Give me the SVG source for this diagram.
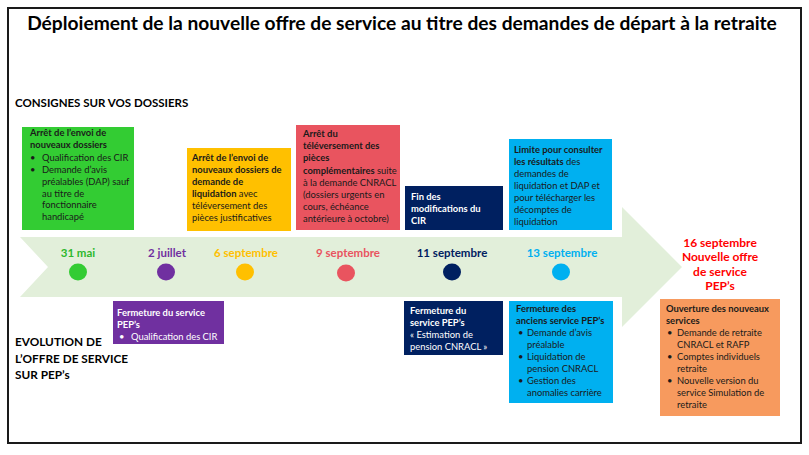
<svg xmlns="http://www.w3.org/2000/svg" width="809" height="455" viewBox="0 0 809 455">
<style>
text{font-family:Lato,"Liberation Sans",sans-serif;}
.t{font-size:9.4px;fill:#1a1a1a;}
.w{font-size:9.4px;fill:#ffffff;}
.b{font-weight:bold;}
.d{font-size:11.5px;font-weight:bold;text-anchor:middle;}
.h{font-size:11.8px;font-weight:bold;fill:#000;}
</style>
<rect x="0" y="0" width="809" height="455" fill="#ffffff"/>
<rect x="8" y="8" width="793" height="435" fill="#ffffff" stroke="#1a1a1a" stroke-width="2"/>
<text id="title" x="402" y="30" text-anchor="middle" font-size="19.2" font-weight="bold" fill="#000">Déploiement de la nouvelle offre de service au titre des demandes de départ à la retraite</text>
<text id="label-consignes" x="15" y="107" font-size="11.5" font-weight="bold" fill="#000">CONSIGNES SUR VOS DOSSIERS</text>
<g id="label-evolution" class="h">
<text x="15" y="346">EVOLUTION  DE</text>
<text x="15" y="363">L’OFFRE  DE SERVICE</text>
<text x="15" y="379">SUR PEP’s</text>
</g>
<g id="connectors">
<polygon points="20,237 622,237 622,207 682,267 622,327 622,297 20,297 48,267" fill="#E2EFDA"/>
</g>
<g id="node-31mai">
<rect x="22" y="127" width="112" height="103" fill="#33CC33"/>
<text class="t"><tspan class="b" x="30" y="136">Arrêt de l’envoi de</tspan><tspan class="b" x="30" y="148">nouveaux dossiers</tspan></text>
<text class="t"><tspan x="30" y="161">•</tspan><tspan x="42" y="161">Qualification des CIR</tspan><tspan x="30" y="173">•</tspan><tspan x="42" y="173">Demande d’avis</tspan><tspan x="42" y="185">préalables (DAP) sauf</tspan><tspan x="42" y="197">au titre de</tspan><tspan x="42" y="208">fonctionnaire</tspan><tspan x="42" y="220">handicapé</tspan></text>
<text class="d" x="78" y="257" fill="#2DB82D">31 mai</text>
<ellipse cx="78" cy="272" rx="9" ry="8.5" fill="#33CC33"/>
</g>
<g id="node-6sept">
<rect x="187" y="148" width="104" height="83" fill="#FFC000"/>
<text class="t"><tspan class="b" x="192" y="161">Arrêt de l’envoi de</tspan><tspan class="b" x="192" y="173">nouveaux dossiers de</tspan><tspan class="b" x="192" y="185">demande de</tspan><tspan class="b" x="192" y="197">liquidation</tspan><tspan> avec</tspan><tspan x="192" y="209">téléversement des</tspan><tspan x="192" y="221">pièces justificatives</tspan></text>
<text class="d" x="246" y="257" fill="#FFC000">6 septembre</text>
<ellipse cx="245" cy="272" rx="9" ry="8.5" fill="#FFC000"/>
</g>
<g id="node-9sept">
<rect x="296" y="125" width="104" height="105" fill="#E9545F"/>
<text class="t"><tspan class="b" x="303" y="137">Arrêt du</tspan><tspan class="b" x="303" y="149">téléversement des</tspan><tspan class="b" x="303" y="161">pièces</tspan><tspan class="b" x="303" y="174">complémentaires</tspan><tspan> suite</tspan><tspan x="303" y="186">à la demande CNRACL</tspan><tspan x="303" y="198">(dossiers urgents en</tspan><tspan x="303" y="210">cours, échéance</tspan><tspan x="303" y="222">antérieure à octobre)</tspan></text>
<text class="d" x="348" y="257" fill="#E9545F">9 septembre</text>
<ellipse cx="346" cy="273" rx="9" ry="8.5" fill="#E9545F"/>
</g>
<g id="node-11sept">
<rect x="405" y="186" width="98" height="44" fill="#002060"/>
<text class="w b"><tspan x="411" y="200">Fin des</tspan><tspan x="411" y="212">modifications du</tspan><tspan x="411" y="224">CIR</tspan></text>
<text class="d" x="452" y="257" fill="#002060">11 septembre</text>
<ellipse cx="452" cy="272" rx="9" ry="8.5" fill="#002060"/>
</g>
<g id="node-13sept">
<rect x="509" y="139" width="103" height="91" fill="#00B0F0"/>
<text class="t"><tspan class="b" x="514" y="153">Limite pour consulter</tspan><tspan class="b" x="514" y="165">les résultats</tspan><tspan> des</tspan><tspan x="514" y="177">demandes de</tspan><tspan x="514" y="189">liquidation et DAP et</tspan><tspan x="514" y="201">pour télécharger les</tspan><tspan x="514" y="213">décomptes de</tspan><tspan x="514" y="225">liquidation</tspan></text>
<text class="d" x="562" y="257" fill="#00B0F0">13 septembre</text>
<ellipse cx="561" cy="272" rx="9" ry="8.5" fill="#00B0F0"/>
</g>
<g id="node-2juillet">
<text class="d" x="167" y="257" fill="#7030A0">2 juillet</text>
<ellipse cx="166" cy="272" rx="9" ry="8.5" fill="#7030A0"/>
<rect x="113" y="301" width="111" height="43" fill="#7030A0"/>
<text class="w"><tspan class="b" x="117" y="316">Fermeture du service</tspan><tspan class="b" x="117" y="328">PEP’s</tspan><tspan x="119" y="340">•</tspan><tspan x="131" y="340">Qualification des CIR</tspan></text>
</g>
<g id="node-fermeture-estimation">
<rect x="404" y="301" width="99" height="54" fill="#002060"/>
<text class="w"><tspan class="b" x="410" y="314">Fermeture du</tspan><tspan class="b" x="410" y="326">service PEP’s</tspan><tspan x="410" y="338">« Estimation de</tspan><tspan x="410" y="350">pension CNRACL »</tspan></text>
</g>
<g id="node-fermeture-anciens">
<rect x="509" y="301" width="104" height="102" fill="#00B0F0"/>
<text class="t"><tspan class="b" x="516" y="312">Fermeture des</tspan><tspan class="b" x="516" y="324">anciens service PEP’s</tspan><tspan x="518" y="336">•</tspan><tspan x="527" y="336">Demande d’avis</tspan><tspan x="527" y="348">préalable</tspan><tspan x="518" y="360">•</tspan><tspan x="527" y="360">Liquidation de</tspan><tspan x="527" y="372">pension CNRACL</tspan><tspan x="518" y="384">•</tspan><tspan x="527" y="384">Gestion des</tspan><tspan x="527" y="396">anomalies carrière</tspan></text>
</g>
<g id="node-16sept">
<text font-size="12" font-weight="bold" fill="#FF0000" text-anchor="middle"><tspan x="720" y="247">16 septembre</tspan><tspan x="720" y="261">Nouvelle offre</tspan><tspan x="720" y="276">de service</tspan><tspan x="720" y="290">PEP’s</tspan></text>
<rect x="660" y="299" width="120" height="117" fill="#F79A5E"/>
<text class="t"><tspan class="b" x="666" y="312">Ouverture des nouveaux</tspan><tspan class="b" x="666" y="324">services</tspan><tspan x="667" y="336">•</tspan><tspan x="677" y="336">Demande de retraite</tspan><tspan x="677" y="348">CNRACL et RAFP</tspan><tspan x="667" y="360">•</tspan><tspan x="677" y="360">Comptes individuels</tspan><tspan x="677" y="372">retraite</tspan><tspan x="667" y="384">•</tspan><tspan x="677" y="384">Nouvelle version du</tspan><tspan x="677" y="396">service Simulation de</tspan><tspan x="677" y="408">retraite</tspan></text>
</g>
</svg>
